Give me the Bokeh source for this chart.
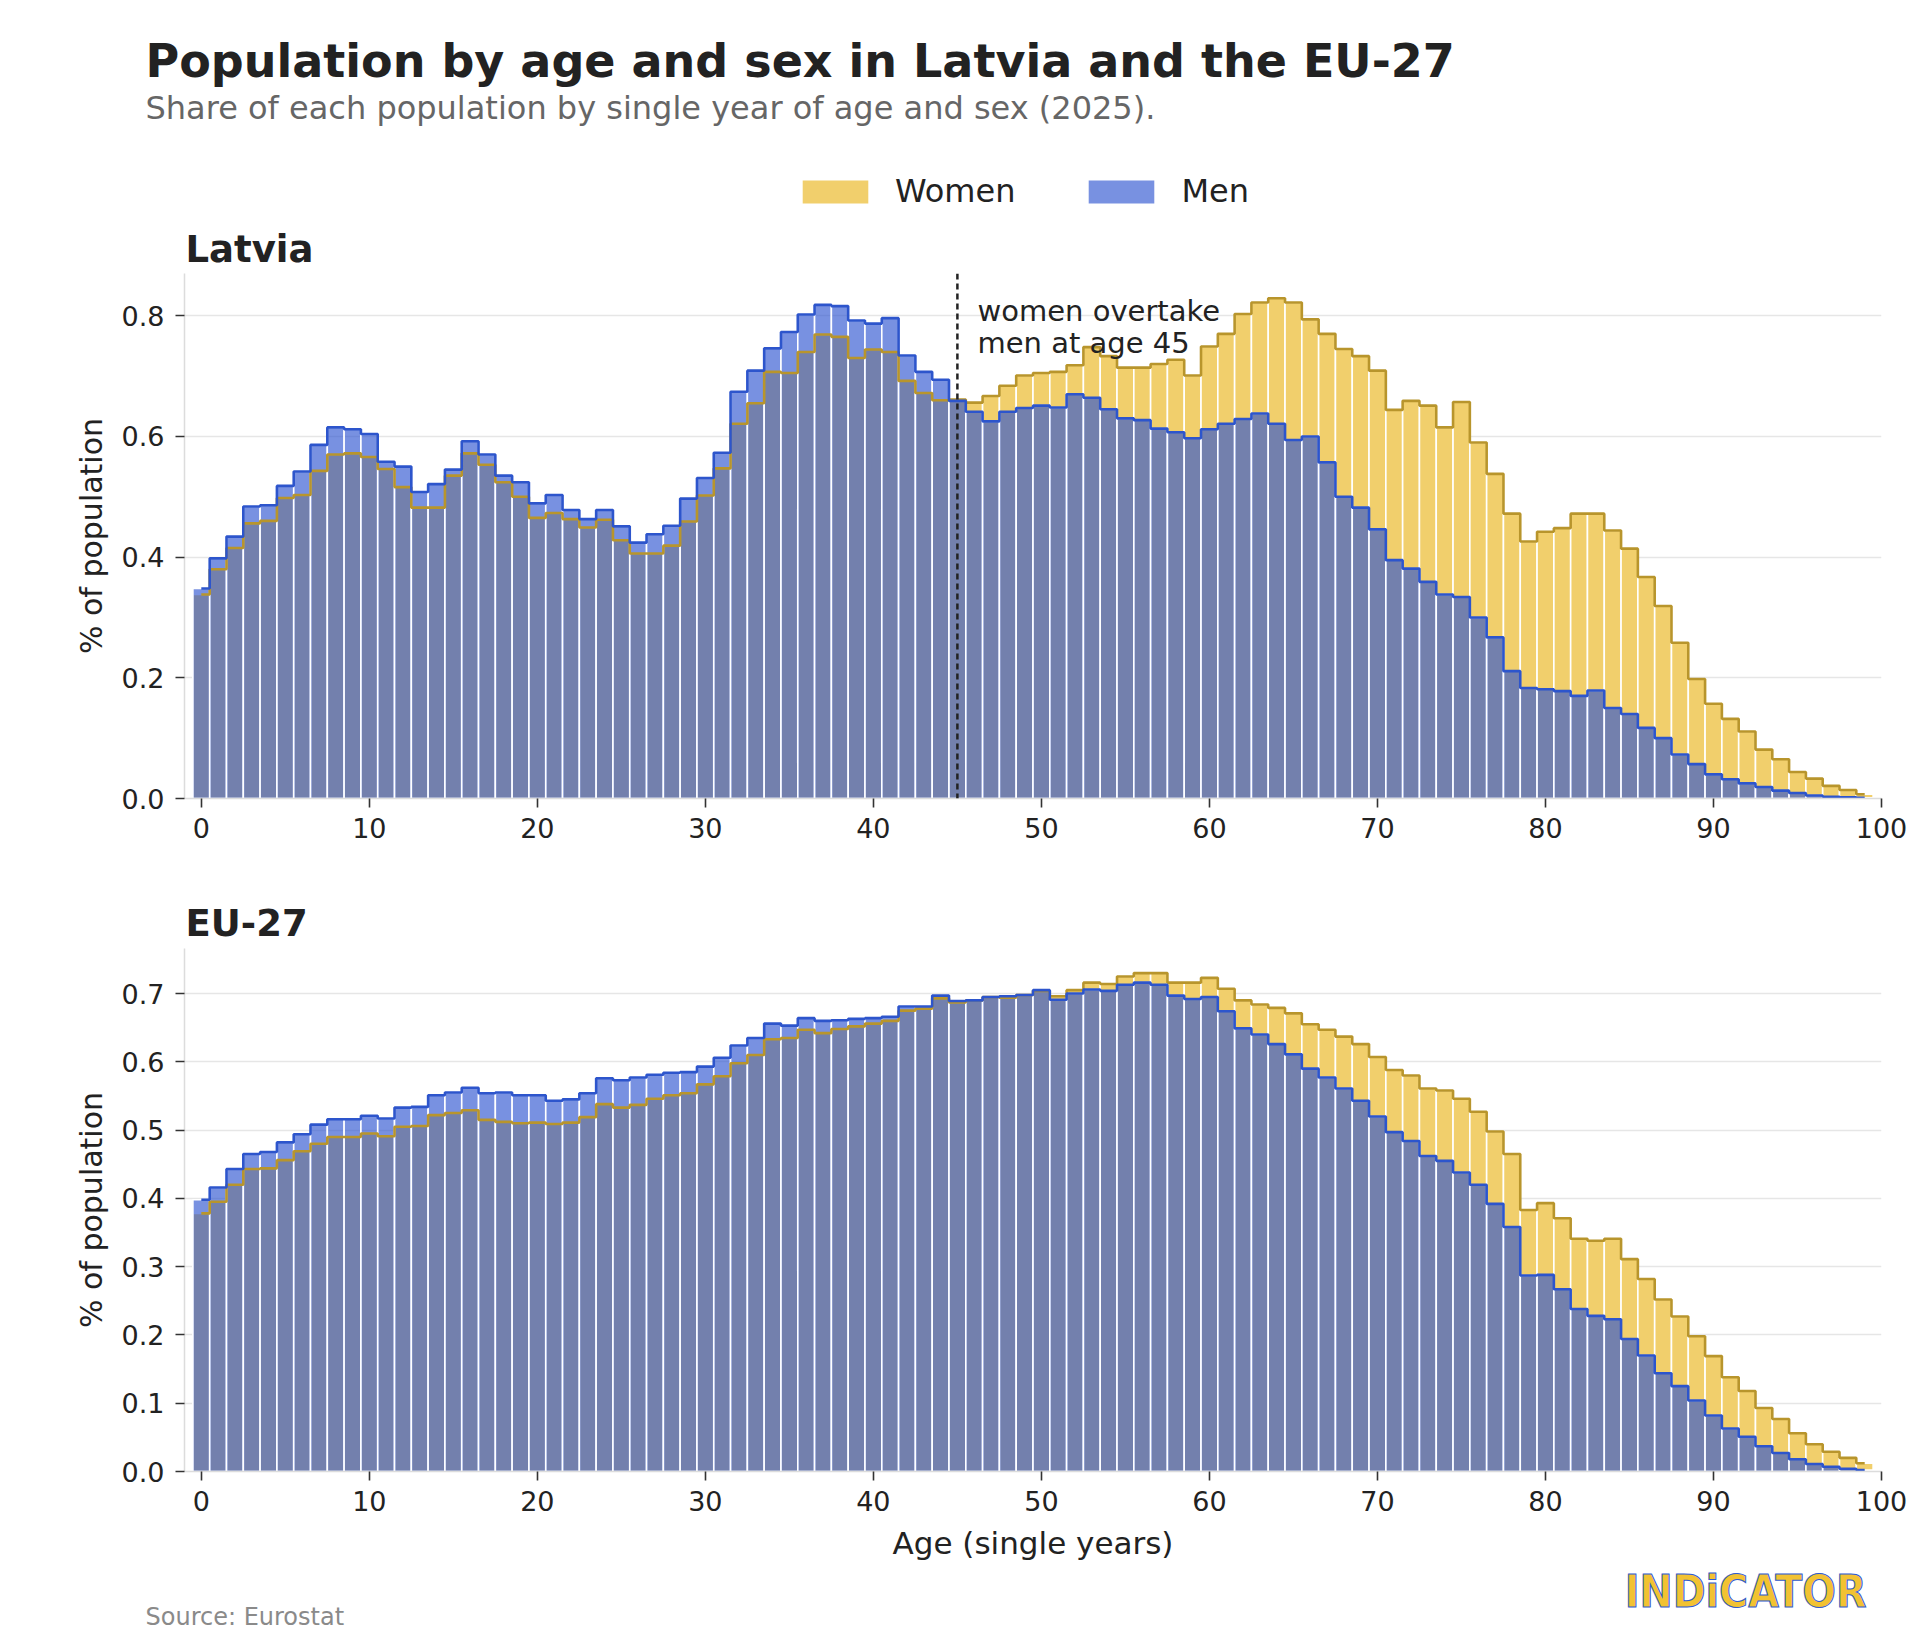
from bokeh.plotting import figure
from bokeh.models import (Label, Legend, LegendItem, Span, FixedTicker,
                          PrintfTickFormatter, ColumnDataSource, Range1d)
from bokeh.layouts import column
from bokeh.embed import file_html
from bokeh.resources import INLINE

# ---------------- data ----------------
ages = list(range(100))

latvia_men = [0.348, 0.398, 0.434, 0.484, 0.486, 0.518, 0.542, 0.586, 0.615, 0.612,
              0.604, 0.558, 0.550, 0.508, 0.521, 0.545, 0.592, 0.570, 0.535, 0.524,
              0.489, 0.503, 0.478, 0.463, 0.478, 0.451, 0.424, 0.438, 0.452, 0.497,
              0.531, 0.573, 0.674, 0.709, 0.746, 0.773, 0.802, 0.818, 0.816, 0.792,
              0.787, 0.796, 0.734, 0.707, 0.694, 0.659, 0.641, 0.625, 0.641, 0.647,
              0.651, 0.648, 0.670, 0.664, 0.645, 0.630, 0.627, 0.613, 0.607, 0.597,
              0.612, 0.621, 0.629, 0.638, 0.621, 0.594, 0.600, 0.557, 0.500, 0.482,
              0.446, 0.395, 0.381, 0.359, 0.338, 0.334, 0.300, 0.267, 0.211, 0.183,
              0.181, 0.178, 0.170, 0.179, 0.150, 0.140, 0.117, 0.100, 0.073, 0.057,
              0.040, 0.032, 0.025, 0.019, 0.013, 0.009, 0.005, 0.003, 0.002, 0.001]

latvia_women = [0.338, 0.380, 0.415, 0.456, 0.460, 0.498, 0.503, 0.543, 0.570, 0.572,
                0.566, 0.546, 0.516, 0.482, 0.482, 0.535, 0.572, 0.553, 0.524, 0.500,
                0.465, 0.473, 0.463, 0.449, 0.462, 0.428, 0.406, 0.406, 0.419, 0.459,
                0.502, 0.547, 0.621, 0.655, 0.707, 0.705, 0.740, 0.769, 0.765, 0.730,
                0.744, 0.740, 0.692, 0.672, 0.660, 0.661, 0.656, 0.667, 0.684, 0.701,
                0.705, 0.707, 0.718, 0.748, 0.733, 0.714, 0.714, 0.720, 0.727, 0.701,
                0.749, 0.770, 0.803, 0.822, 0.829, 0.822, 0.794, 0.770, 0.745, 0.733,
                0.709, 0.644, 0.659, 0.651, 0.615, 0.657, 0.590, 0.538, 0.472, 0.426,
                0.442, 0.448, 0.472, 0.472, 0.444, 0.414, 0.367, 0.319, 0.258, 0.198,
                0.157, 0.132, 0.111, 0.081, 0.065, 0.044, 0.033, 0.021, 0.014, 0.007]

eu_men = [0.398, 0.416, 0.443, 0.465, 0.468, 0.482, 0.494, 0.508, 0.516, 0.516,
          0.521, 0.517, 0.533, 0.534, 0.551, 0.555, 0.562, 0.554, 0.555, 0.551,
          0.551, 0.543, 0.545, 0.554, 0.576, 0.573, 0.577, 0.581, 0.584, 0.585,
          0.593, 0.606, 0.624, 0.635, 0.656, 0.653, 0.664, 0.660, 0.661, 0.663,
          0.664, 0.666, 0.681, 0.681, 0.697, 0.689, 0.690, 0.695, 0.696, 0.698,
          0.705, 0.691, 0.700, 0.706, 0.704, 0.713, 0.716, 0.713, 0.697, 0.692,
          0.695, 0.674, 0.649, 0.640, 0.626, 0.611, 0.590, 0.577, 0.561, 0.543,
          0.520, 0.497, 0.484, 0.462, 0.455, 0.438, 0.420, 0.392, 0.358, 0.287,
          0.288, 0.267, 0.238, 0.228, 0.223, 0.194, 0.170, 0.144, 0.125, 0.104,
          0.082, 0.063, 0.051, 0.037, 0.027, 0.018, 0.011, 0.007, 0.004, 0.002]

eu_women = [0.378, 0.395, 0.420, 0.443, 0.444, 0.456, 0.469, 0.480, 0.490, 0.490,
            0.495, 0.491, 0.505, 0.506, 0.522, 0.525, 0.529, 0.515, 0.512, 0.510,
            0.511, 0.509, 0.511, 0.519, 0.538, 0.533, 0.537, 0.546, 0.551, 0.554,
            0.567, 0.579, 0.598, 0.610, 0.633, 0.635, 0.647, 0.642, 0.648, 0.652,
            0.656, 0.660, 0.675, 0.678, 0.693, 0.687, 0.690, 0.695, 0.694, 0.698,
            0.704, 0.696, 0.705, 0.716, 0.714, 0.725, 0.730, 0.730, 0.716, 0.716,
            0.723, 0.707, 0.690, 0.684, 0.679, 0.671, 0.655, 0.647, 0.637, 0.626,
            0.607, 0.588, 0.580, 0.561, 0.558, 0.546, 0.527, 0.498, 0.465, 0.383,
            0.393, 0.371, 0.341, 0.338, 0.341, 0.311, 0.282, 0.252, 0.227, 0.198,
            0.169, 0.138, 0.118, 0.093, 0.077, 0.056, 0.040, 0.029, 0.020, 0.012]

x_ticks = [0, 10, 20, 30, 40, 50, 60, 70, 80, 90, 100]
latvia_y_ticks = [0.0, 0.2, 0.4, 0.6, 0.8]
eu_y_ticks = [0.0, 0.1, 0.2, 0.3, 0.4, 0.5, 0.6, 0.7]
series_names = ["Women", "Men"]

TITLE = "Population by age and sex in Latvia and the EU-27"
SUBTITLE = "Share of each population by single year of age and sex (2025)."
PANEL_1 = "Latvia"
PANEL_2 = "EU-27"
ANNOT_1 = "women overtake"
ANNOT_2 = "men at age 45"
CROSS_AGE = 45
Y_LABEL = "% of population"
X_LABEL = "Age (single years)"
SOURCE = "Source: Eurostat"
LOGO = "INDiCATOR"

# ---------------- style ----------------
FONT = "DejaVu Sans"
WOMEN_FILL = "#F1CF6C"
MEN_FILL = "#2F56D1"
MEN_ALPHA = 0.65
WOMEN_LINE = "#B8952C"
MEN_LINE = "#2D55CC"
TEXT = "#222222"

W = 1915
BL, BR = 184, 34
FRAME_W = W - BL - BR
X0, X1 = -1, 100

H_HEAD = 272
P1_TOP, P1_FRAME, P1_BOT = 1, 525, 74
H_MID = 75
P2_TOP, P2_FRAME, P2_BOT = 1, 523, 55
H_FOOT = 116
Y1MAX = 0.87
Y2MAX = 0.766


def blank(height):
    # a bare canvas whose data units equal pixels (y grows downwards)
    f = figure(width=W, height=height, x_range=Range1d(0, W),
               y_range=Range1d(height, 0), x_axis_type=None, y_axis_type=None,
               output_backend="svg", toolbar_location=None, title=None,
               min_border_left=0, min_border_right=0, min_border_top=0,
               min_border_bottom=0, frame_align=False)
    f.outline_line_color = None
    f.xgrid.visible = False
    f.ygrid.visible = False
    f.background_fill_color = "white"
    f.border_fill_color = "white"
    return f


def text(fig, x, y, s, size, color=TEXT, bold=False, align="left",
         font=FONT, **kw):
    fig.add_layout(Label(x=x, y=y, text=s, text_font=font,
                         text_font_style="bold" if bold else "normal",
                         text_font_size=size, text_color=color,
                         text_align=align, text_baseline="middle", **kw))


def make_panel(top, frame, bot, ymax, yticks, men, women):
    p = figure(width=W, height=top + frame + bot, x_range=(X0, X1),
               y_range=(0, ymax), output_backend="svg", toolbar_location=None,
               title=None, min_border_left=BL, min_border_right=BR,
               min_border_top=top, min_border_bottom=bot)
    p.outline_line_color = None
    p.background_fill_color = "white"
    p.border_fill_color = "white"
    src = ColumnDataSource(dict(age=ages, men=men, women=women))
    p.vbar(x="age", top="women", width=1, source=src,
           fill_color=WOMEN_FILL, fill_alpha=1.0,
           line_color="white", line_width=1.6)
    p.vbar(x="age", top="men", width=1, source=src,
           fill_color=MEN_FILL, fill_alpha=MEN_ALPHA,
           line_color="white", line_width=1.6)
    p.step(x="age", y="women", source=src, mode="center",
           line_color=WOMEN_LINE, line_width=2.6)
    p.step(x="age", y="men", source=src, mode="center",
           line_color=MEN_LINE, line_width=2.6)

    p.xgrid.grid_line_color = None
    p.ygrid.grid_line_color = "#e6e6e6"
    p.ygrid.grid_line_width = 1.5
    p.xaxis.ticker = FixedTicker(ticks=x_ticks)
    p.yaxis.ticker = FixedTicker(ticks=yticks)
    p.yaxis.formatter = PrintfTickFormatter(format="%.1f")
    for ax in (p.xaxis[0], p.yaxis[0]):
        ax.axis_line_color = "#dcdcdc"
        ax.axis_line_width = 1.5
        ax.major_tick_in = 0
        ax.major_tick_out = 9
        ax.major_tick_line_color = "#333333"
        ax.major_tick_line_width = 1.6
        ax.minor_tick_line_color = None
        ax.major_label_text_font = FONT
        ax.major_label_text_font_size = "27px"
        ax.major_label_text_color = TEXT
        ax.axis_label_text_font = FONT
        ax.axis_label_text_font_size = "30px"
        ax.axis_label_text_font_style = "normal"
        ax.axis_label_text_color = TEXT
    p.xaxis.major_label_standoff = 10
    p.yaxis.major_label_standoff = 11
    p.yaxis.axis_label = Y_LABEL
    p.yaxis.axis_label_standoff = 10
    return p, src


# ---------------- header ----------------
head = blank(H_HEAD)
text(head, 145, 60, TITLE, "46px", bold=True)
text(head, 145, 107, SUBTITLE, "32px", color="#666666")
text(head, 185, 249, PANEL_1, "37px", bold=True)

# ---------------- Latvia ----------------
p1, src1 = make_panel(P1_TOP, P1_FRAME, P1_BOT, Y1MAX, latvia_y_ticks, latvia_men, latvia_women)
p1.add_layout(Span(location=CROSS_AGE, dimension="height", line_color="#222222",
                   line_dash="6 4", line_width=2.5))
ppu1 = P1_FRAME / Y1MAX
ann_x = X0 + (977 - BL) * (X1 - X0) / FRAME_W
text(p1, ann_x, Y1MAX - 37 / ppu1, ANNOT_1, "29px")
text(p1, ann_x, Y1MAX - 69 / ppu1, ANNOT_2, "29px")

# legend: hidden renderers that share the Latvia data and the bar styles
lw = head.vbar(x="age", top="women", width=1, source=src1, visible=False,
               fill_color=WOMEN_FILL, line_color=None)
lm = head.vbar(x="age", top="men", width=1, source=src1, visible=False,
               fill_color=MEN_FILL, fill_alpha=MEN_ALPHA, line_color=None)
legend = Legend(items=[LegendItem(label=series_names[0], renderers=[lw]),
                       LegendItem(label=series_names[1], renderers=[lm])],
                orientation="horizontal", location=(794, 62),
                glyph_width=82, glyph_height=29, label_standoff=19, spacing=65,
                padding=0, margin=0, border_line_color=None,
                background_fill_alpha=0.0, inactive_fill_alpha=0.0,
                label_text_font=FONT, label_text_font_size="32px",
                label_text_color=TEXT, label_height=29)
head.add_layout(legend)

# ---------------- EU-27 title strip ----------------
mid = blank(H_MID)
text(mid, 185, 51, PANEL_2, "37px", bold=True)

# ---------------- EU-27 ----------------
p2, src2 = make_panel(P2_TOP, P2_FRAME, P2_BOT, Y2MAX, eu_y_ticks, eu_men, eu_women)

# ---------------- footer ----------------
foot = blank(H_FOOT)
text(foot, (BL + BL + FRAME_W) / 2, 16, X_LABEL, "31px", align="center")
text(foot, 145, 90, SOURCE, "24px", color="#8a8a8a")
text(foot, 1866, 65, LOGO, "44px", color="#F2C232", bold=True, align="right",
     font="'DejaVu Sans Condensed', 'DejaVu Sans'", text_outline_color="#2F5BD0")

layout = column(head, p1, mid, p2, foot, spacing=0)
open("out.html", "w").write(file_html(layout, INLINE, title="Population by age and sex"))
